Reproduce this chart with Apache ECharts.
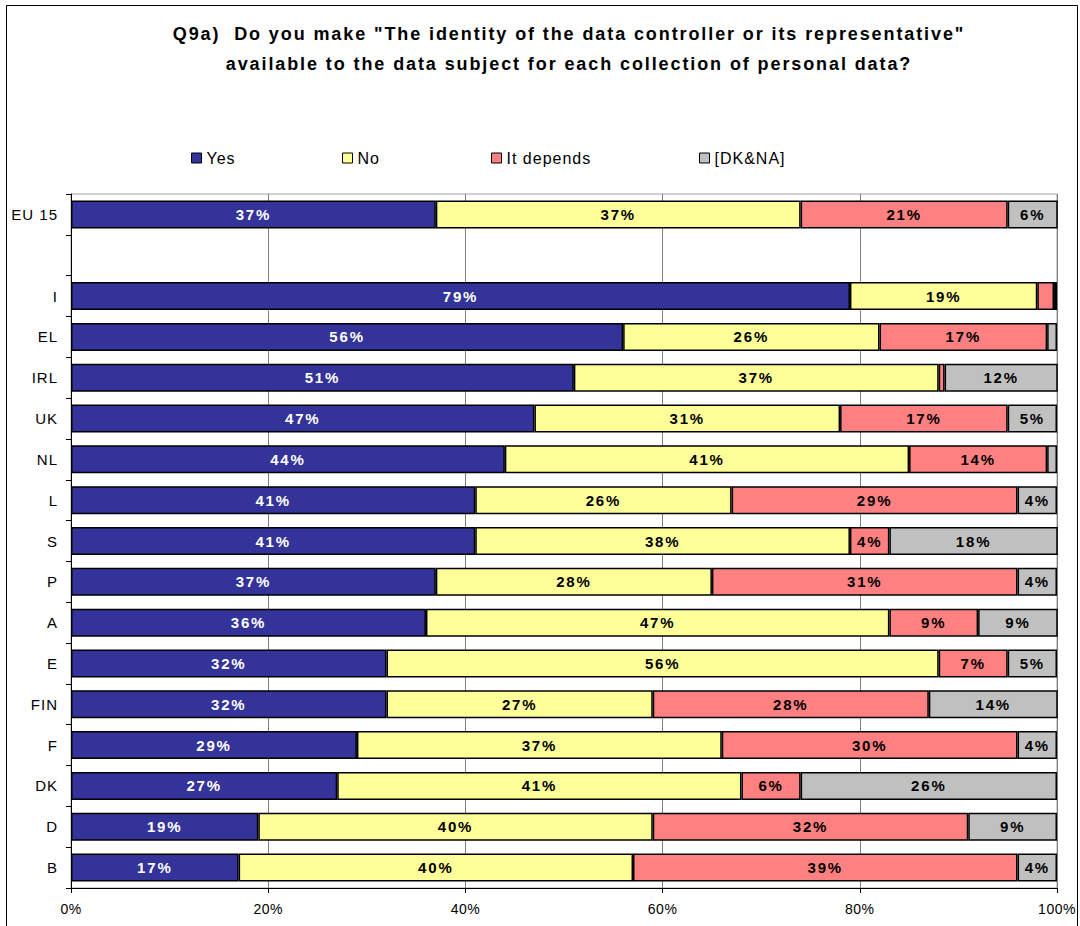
<!DOCTYPE html>
<html>
<head>
<meta charset="utf-8">
<script src="https://cdn.jsdelivr.net/npm/echarts@6/dist/echarts.min.js"></script>
<style>
  html, body { margin: 0; padding: 0; background: #fff; }
  #chart { width: 1080px; height: 926px; }
</style>
</head>
<body>
<div id="chart"></div>
<script>
// Countries, top to bottom (the empty entry leaves a gap under EU 15)
const categories = ['EU 15', '', 'I', 'EL', 'IRL', 'UK', 'NL', 'L', 'S', 'P', 'A', 'E', 'FIN', 'F', 'DK', 'D', 'B'];

// Answer shares in percent
const yesValues     = [37, null, 79, 56, 51, 47, 44, 41, 41, 37, 36, 32, 32, 29, 27, 19, 17];
const noValues      = [37, null, 19, 26, 37, 31, 41, 26, 38, 28, 47, 56, 27, 37, 41, 40, 40];
const dependsValues = [21, null, 1.7, 17, 0.6, 17, 14, 29, 4, 31, 9, 7, 28, 30, 6, 32, 39];
const dkValues      = [6, null, 0.3, 1, 12, 5, 1, 4, 18, 4, 9, 5, 14, 4, 26, 9, 4];

const xTicks = [0, 20, 40, 60, 80, 100];

const seriesNames = ['Yes', 'No', 'It depends', '[DK&NA]'];
const seriesColors = ['#333399', '#FFFF99', '#FF8080', '#C0C0C0'];
const labelColors = ['#ffffff', '#000000', '#000000', '#000000'];
const seriesData = [yesValues, noValues, dependsValues, dkValues];

const FONT = "'Liberation Sans', Arial, sans-serif";

const chart = echarts.init(document.getElementById('chart'), null, { renderer: 'svg' });

// Widen the tracking of the drawn text a little, per text role
function spaceOutText() {
  document.querySelectorAll('#chart svg text').forEach(t => {
    const cs = getComputedStyle(t);
    const size = parseFloat(cs.fontSize);
    const bold = cs.fontWeight === 'bold' || parseInt(cs.fontWeight, 10) >= 600;
    let sp = 0;
    if (bold && size >= 18) sp = 1.9;        // title
    else if (bold) sp = 1.8;                 // values inside the bars
    else if (size >= 16) sp = 1;             // legend
    else if (size >= 15) sp = 1;             // country names
    else sp = 0.5;                           // percent ticks
    t.style.letterSpacing = sp + 'px';
  });
}
chart.on('rendered', spaceOutText);

const series = seriesNames.map((name, i) => ({
  name: name,
  type: 'bar',
  stack: 'total',
  barWidth: 28,
  data: seriesData[i],
  itemStyle: { color: seriesColors[i], borderColor: '#000', borderWidth: 1.5 },
  label: {
    show: true,
    position: 'inside',
    color: labelColors[i],
    fontFamily: FONT,
    fontWeight: 'bold',
    fontSize: 15,
    formatter: p => (p.value == null || p.value < 3) ? '' : Math.round(p.value) + '%'
  },
  emphasis: { disabled: true }
}));

// One legend block per answer so each sits at its own spot
const legendLefts = [191, 342, 491, 699];
const legends = seriesNames.map((name, i) => ({
  data: [name],
  left: legendLefts[i],
  top: 150,
  icon: 'rect',
  itemWidth: 10,
  itemHeight: 10,
  itemGap: 0,
  padding: 0,
  selectedMode: false,
  itemStyle: { borderColor: '#000', borderWidth: 1 },
  textStyle: { fontFamily: FONT, fontSize: 16, lineHeight: 16, color: '#000', padding: [0, 0, 0, 0] }
}));

chart.setOption({
  animation: false,
  backgroundColor: '#fff',
  title: {
    text: 'Q9a)  Do you make "The identity of the data controller or its representative"\navailable to the data subject for each collection of personal data?',
    left: 564,
    top: 14,
    textAlign: 'center',
    textStyle: { fontFamily: FONT, fontWeight: 'bold', fontSize: 18, lineHeight: 30, color: '#000' }
  },
  legend: legends,
  graphic: [{
    type: 'rect',
    shape: { x: 6.5, y: 5.5, width: 1071, height: 940 },
    style: { fill: 'none', stroke: '#000', lineWidth: 1 },
    silent: true
  }],
  grid: { left: 71, right: 23, top: 194, bottom: 38, show: true, borderColor: '#a0a0a0', borderWidth: 1, backgroundColor: 'transparent' },
  xAxis: {
    type: 'value',
    min: 0,
    max: 100,
    interval: 20,
    axisLine: { show: true, lineStyle: { color: '#000', width: 1 } },
    axisTick: { show: true, length: 5, lineStyle: { color: '#000' } },
    splitLine: { show: true, lineStyle: { color: '#808080', width: 1 } },
    axisLabel: {
      fontFamily: FONT, fontSize: 14, color: '#000', margin: 14,
      formatter: v => xTicks.includes(v) ? v + '%' : ''
    }
  },
  yAxis: {
    type: 'category',
    data: categories,
    inverse: true,
    axisLine: { show: true, lineStyle: { color: '#000', width: 1 } },
    axisTick: { show: true, length: 5, lineStyle: { color: '#000' } },
    splitLine: { show: false },
    axisLabel: { fontFamily: FONT, fontSize: 15, color: '#000', margin: 13 }
  },
  series: series
});
spaceOutText();
</script>
</body>
</html>
